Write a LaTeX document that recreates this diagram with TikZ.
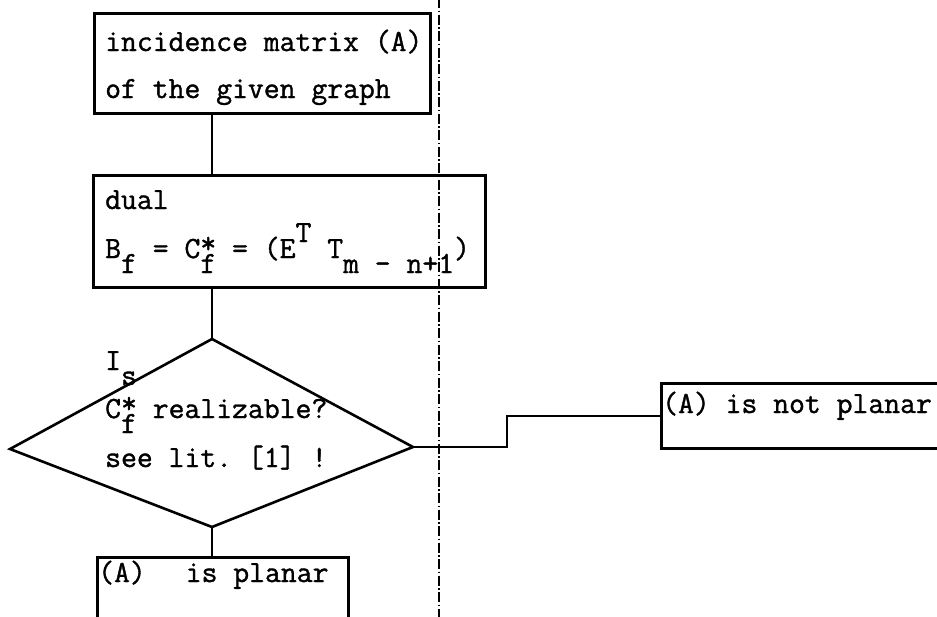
\documentclass[tikz,border=0pt]{standalone}
\usepackage{fontspec}
\setmonofont{Latin Modern Mono}[FakeBold=1.2]
\usetikzlibrary{calc}
\newcommand{\lowr}[1]{\raisebox{-15pt}{#1}}
\newcommand{\highr}[1]{\raisebox{16pt}{#1}}
\newcommand{\strover}{\rlap{\raisebox{5pt}{*}}}
\begin{document}
\begin{tikzpicture}[x=1pt,y=-1pt,
  box/.style={draw,line width=2.8pt,inner sep=0pt,anchor=north west},
  txt/.style={inner sep=0pt,anchor=base west,font=\fontsize{30.8}{36}\selectfont\ttfamily},
  conn/.style={line width=2.4pt},
  guide/.style={line width=1.1pt,dash pattern=on 10pt off 2.5pt on 1.5pt off 2.5pt}]
\useasboundingbox (0,0) rectangle (937,616);
\fill[white] (0,0) rectangle (937,616);
% guide line
\coordinate (gtop) at (439,-2);
\coordinate (gbot) at (439,618);
\draw[guide] (gtop) -- (gbot);
% boxes
\node[box,minimum width=336pt,minimum height=100pt] (b1) at (93,12) {};
\node[box,minimum width=392pt,minimum height=112pt] (b2) at (92,174) {};
\node[box,minimum width=251pt,minimum height=62pt] (b3) at (96,556) {};
\node[box,minimum width=300pt,minimum height=65pt] (b4) at (660,382) {};
% diamond
\coordinate (dt) at (212,339);
\coordinate (dr) at (413,447);
\coordinate (db) at (212,527);
\coordinate (dl) at (10,449);
\draw[line width=2.6pt,line join=miter] (dt) -- (dr) -- (db) -- (dl) -- cycle;
% texts
\node[txt] (t1a) at (105,51) {incidence matrix (A)};
\node[txt] (t1b) at (105,98) {of the given graph};
\node[txt] (t2a) at (105,209) {dual};
\node[txt] (t2b) at (105,258) {B\lowr{f} = C\strover\lowr{f} = (E\highr{T} T\lowr{m - n+1})};
\node[txt] (d1) at (105,370) {I\lowr{s}};
\node[txt] (d2) at (105,418) {C\strover\lowr{f} realizable?};
\node[txt] (d3) at (105,467) {see lit. [1] !};
\node[txt] (t4) at (662,413) {(A) is not planar};
\node[txt] (t3) at (98,582) {(A)\hspace{40pt}is planar};
% connectors
\draw[conn] (b1.south -| dt) -- (b2.north -| dt);
\draw[conn] (b2.south -| dt) -- (dt);
\draw[conn] (db) -- (b3.north -| db);
\coordinate (kink) at (507,447);
\draw[conn,line width=2pt] (dr) -- (kink) |- (b4.west);
\end{tikzpicture}
\end{document}
